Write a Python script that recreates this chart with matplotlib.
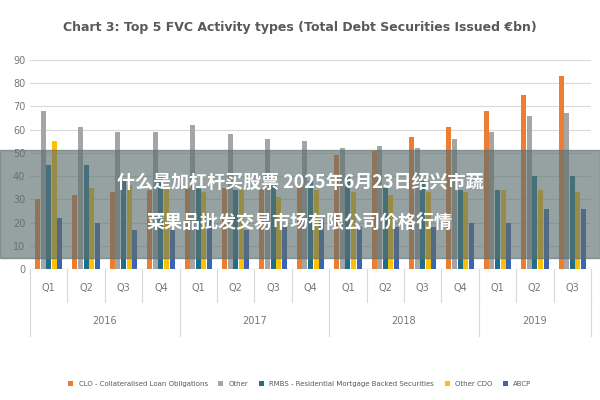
import matplotlib
matplotlib.use("Agg")
import matplotlib.pyplot as plt
import numpy as np

quarters = ["Q1","Q2","Q3","Q4","Q1","Q2","Q3","Q4","Q1","Q2","Q3","Q4","Q1","Q2","Q3"]
years = ["2016","2017","2018","2019"]
year_counts = [4,4,4,3]
series_names = ["CLO - Collateralised Loan Obligations","Other","RMBS - Residential Mortgage Backed Securities","Other CDO","ABCP"]
clo = [30,32,33,34,35,35,35,36,49,51,57,61,68,75,83]
other = [68,61,59,59,62,58,56,55,52,53,52,56,59,66,67]
rmbs = [45,45,38,40,35,34,37,38,40,35,38,34,34,40,40]
other_cdo = [55,35,36,35,33,34,31,34,33,32,33,33,34,34,33]
abcp = [22,20,17,17,21,17,18,22,18,18,18,20,20,26,26]
colors = ["#ED7D31","#A5A5A5","#1F6F8B","#FFC000","#3B64B4"]
cjk = ["Noto Sans CJK SC","Noto Sans CJK JP","Noto Sans CJK TC","Noto Sans CJK KR","DejaVu Sans"]

fig = plt.figure(figsize=(6,4), dpi=100)
ax = fig.add_axes([0.05,0.3275,0.935,0.5225])
n = len(quarters)
x = np.arange(n)
w = 0.13
for i,(vals,c,name) in enumerate(zip([clo,other,rmbs,other_cdo,abcp],colors,series_names)):
    ax.bar(x+(i-2)*w*1.15, vals, w, color=c, label=name, zorder=3)
ax.set_ylim(0,90)
ax.set_xlim(-0.5,n-0.5)
ax.set_yticks(range(0,91,10))
ax.tick_params(axis='y', labelsize=7, colors="#777777", length=0)
ax.grid(axis='y', color="#D9D9D9", lw=0.8, zorder=0)
for s in ax.spines.values(): s.set_visible(False)
ax.set_xticks([])
tr = ax.get_xaxis_transform()
for k in range(n):
    ax.text(k, -0.09, quarters[k], transform=tr, ha='center', va='center', fontsize=7, color="#777777")
for p in [-0.5] + [k+0.5 for k in range(n)]:
    ax.plot([p,p],[0,-0.16], transform=tr, color="#D9D9D9", lw=0.8, clip_on=False)
start=0
ax.plot([-0.5,-0.5],[-0.16,-0.32], transform=tr, color="#D9D9D9", lw=0.8, clip_on=False)
for y,cnt in zip(years,year_counts):
    ax.text(start+cnt/2-0.5, -0.25, y, transform=tr, ha='center', va='center', fontsize=7, color="#777777")
    end = start+cnt-0.5
    ax.plot([end,end],[-0.16,-0.32], transform=tr, color="#D9D9D9", lw=0.8, clip_on=False)
    start+=cnt
ax.axhline(0,color="#D9D9D9",lw=0.8)
fig.text(0.5,0.93,"Chart 3: Top 5 FVC Activity types (Total Debt Securities Issued €bn)", ha='center', va='center', fontsize=9, color="#595959", fontweight='bold')
fig.legend(loc='center', bbox_to_anchor=(0.5,0.04), ncol=5, fontsize=5, frameon=False, handlelength=0.7, handleheight=0.7, columnspacing=1.5, labelcolor="#595959")
fig.patches.append(matplotlib.patches.Rectangle((0,1-258/400),1,108/400, transform=fig.transFigure, color="#5E706F", alpha=0.65, zorder=10))
fig.text(0.5,1-182/400,"什么是加杠杆买股票 2025年6月23日绍兴市蔬", ha='center', va='center', fontsize=13, color="white", fontweight='bold', fontfamily=cjk, zorder=11)
fig.text(0.5,1-222/400,"菜果品批发交易市场有限公司价格行情", ha='center', va='center', fontsize=13, color="white", fontweight='bold', fontfamily=cjk, zorder=11)
fig.savefig("out.png", dpi=100)
